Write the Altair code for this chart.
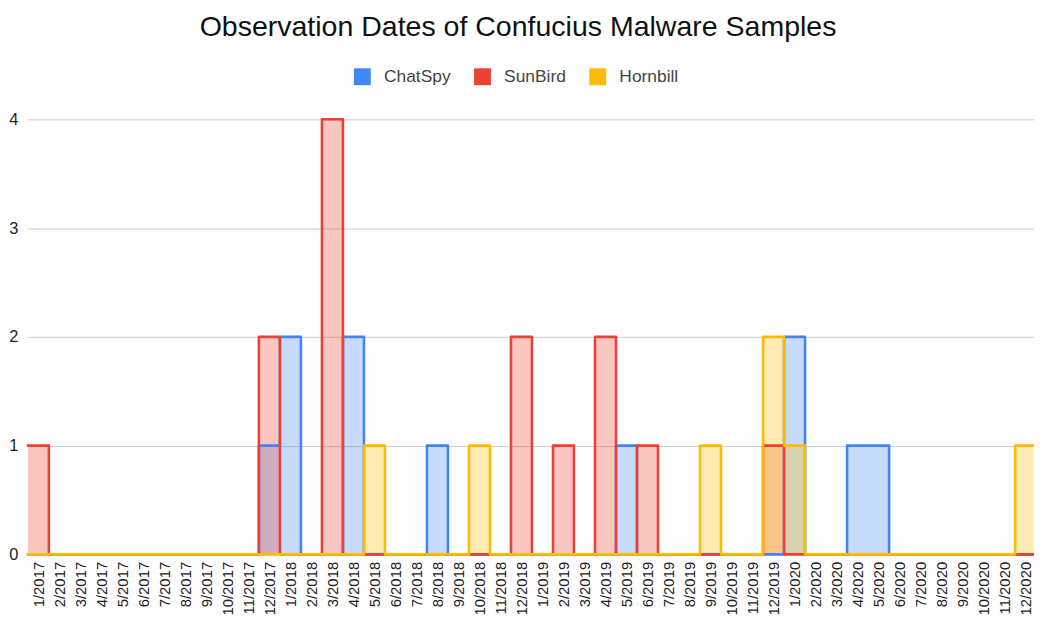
import altair as alt
import pandas as pd

# Month categories 1/2017 .. 12/2020
months = [f"{m}/{y}" for y in range(2017, 2021) for m in range(1, 13)]

series_names = ["ChatSpy", "SunBird", "Hornbill"]
series_colors = ["#4285F4", "#EA4335", "#FBBC04"]

#            2017                                  2018                                  2019                                  2020
chatspy = [0, 0, 0, 0, 0, 0, 0, 0, 0, 0, 0, 1,   2, 0, 0, 2, 0, 0, 0, 1, 0, 0, 0, 0,   0, 0, 0, 0, 1, 0, 0, 0, 0, 0, 0, 0,   2, 0, 0, 1, 1, 0, 0, 0, 0, 0, 0, 0]
sunbird = [1, 0, 0, 0, 0, 0, 0, 0, 0, 0, 0, 2,   0, 0, 4, 0, 0, 0, 0, 0, 0, 0, 0, 2,   0, 1, 0, 2, 0, 1, 0, 0, 0, 0, 0, 1,   0, 0, 0, 0, 0, 0, 0, 0, 0, 0, 0, 0]
hornbill = [0, 0, 0, 0, 0, 0, 0, 0, 0, 0, 0, 0,  0, 0, 0, 0, 1, 0, 0, 0, 0, 1, 0, 0,   0, 0, 0, 0, 0, 0, 0, 0, 1, 0, 0, 2,   1, 0, 0, 0, 0, 0, 0, 0, 0, 0, 0, 1]

y_ticks = [0, 1, 2, 3, 4]

rows = []
for name, vals in zip(series_names, [chatspy, sunbird, hornbill]):
    for i, v in enumerate(vals):
        rows.append({"idx": i, "series": name, "value": v})
    # closing point so the last step spans its full band
    rows.append({"idx": len(vals), "series": name, "value": vals[-1]})
df = pd.DataFrame(rows)

n = len(months)
label_array = "[" + ",".join(f"'{m}'" for m in months) + "]"
label_expr = f"{label_array}[floor(datum.value)]"

FONT = "Liberation Sans"
PLOT_W = 1013
PLOT_H = 438
X_MAX = 47.9  # last month slightly cropped at the right edge, as in the reference

x_enc = alt.X(
    "idx:Q",
    scale=alt.Scale(domain=[0, X_MAX], nice=False, zero=False),
    axis=alt.Axis(
        values=[i + 0.5 for i in range(n)],
        labelExpr=label_expr,
        labelAngle=270,
        labelOverlap=False,
        labelBound=False,
        labelFontSize=15,
        labelFont=FONT,
        labelColor="#222222",
        labelPadding=7,
        grid=False,
        ticks=False,
        domain=False,
        title=None,
    ),
)
y_enc = alt.Y(
    "value:Q",
    stack=None,
    scale=alt.Scale(domain=[0, 4], nice=False),
    axis=alt.Axis(
        values=y_ticks,
        format="d",
        grid=True,
        gridColor="#cccccc",
        gridWidth=1,
        ticks=False,
        domain=False,
        labelFontSize=16.5,
        labelFont=FONT,
        labelColor="#222222",
        labelPadding=10,
        title=None,
    ),
)
color_scale = alt.Scale(domain=series_names, range=series_colors)

area = alt.Chart(df).mark_area(interpolate="step-after", opacity=0.3).encode(
    x=x_enc,
    y=y_enc,
    color=alt.Color(
        "series:N",
        scale=color_scale,
        sort=series_names,
        legend=alt.Legend(
            orient="none",
            legendX=328,
            legendY=-52,
            direction="horizontal",
            title=None,
            symbolType="square",
            symbolSize=289,
            symbolStrokeWidth=0,
            symbolOpacity=1,
            labelFontSize=17.5,
            labelFont=FONT,
            labelColor="#444444",
            labelOffset=13,
            columnPadding=23,
            padding=0,
        ),
    ),
)

line = alt.Chart(df).mark_line(
    interpolate="step-after", strokeWidth=2.6, strokeJoin="round", strokeCap="round"
).encode(
    x=x_enc,
    y=y_enc,
    color=alt.Color("series:N", scale=color_scale, sort=series_names, legend=None),
)

chart = (
    alt.layer(area, line)
    .properties(
        width=PLOT_W,
        height=PLOT_H,
        title=alt.TitleParams(
            "Observation Dates of Confucius Malware Samples",
            fontSize=28.7,
            font=FONT,
            fontWeight="normal",
            color="#111111",
            anchor="middle",
            offset=26,
            dx=-13,
        ),
        autosize=alt.AutoSizeParams(type="none"),
        padding={"left": 20, "top": 110, "right": 0, "bottom": 63},
        background="white",
    )
    .configure_view(stroke=None)
)

chart.save("out.html", embed_options={"renderer": "svg", "actions": False})
